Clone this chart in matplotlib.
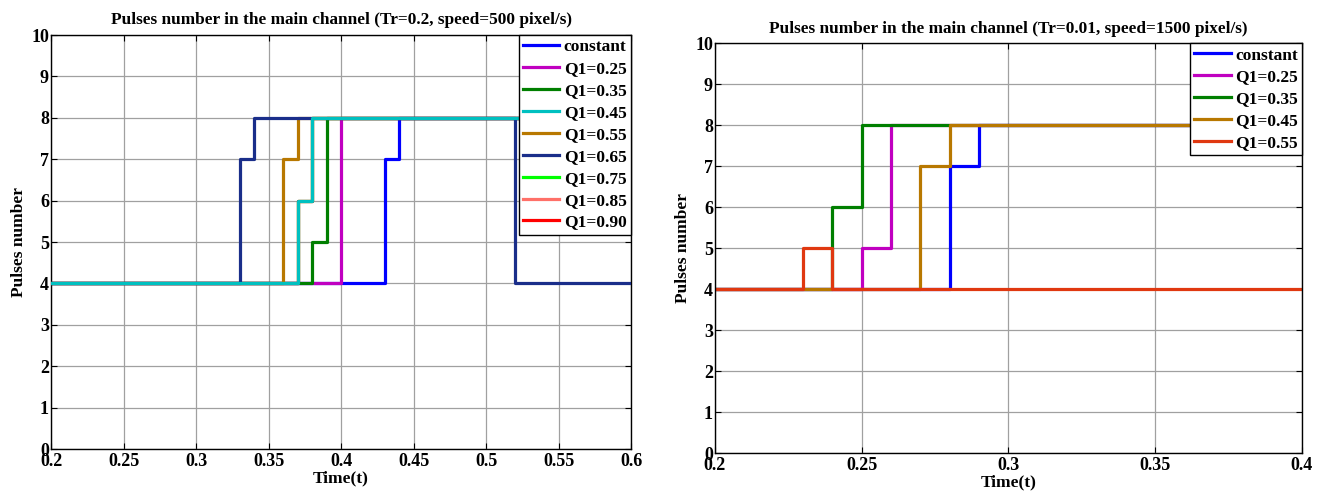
import matplotlib
matplotlib.use("Agg")
import matplotlib.pyplot as plt

plt.rcParams["font.family"] = ["Liberation Serif", "DejaVu Serif"]
plt.rcParams["font.weight"] = "bold"

# ---- left panel data (Tr=0.2, speed=500 pixel/s) ----
left_labels = ["constant", "Q1=0.25", "Q1=0.35", "Q1=0.45", "Q1=0.55",
               "Q1=0.65", "Q1=0.75", "Q1=0.85", "Q1=0.90"]
left_t = [
    [0.2, 0.43, 0.44, 0.6],
    [0.2, 0.40, 0.6],
    [0.2, 0.38, 0.39, 0.6],
    [0.2, 0.37, 0.38, 0.6],
    [0.2, 0.36, 0.37, 0.6],
    [0.2, 0.33, 0.34, 0.52, 0.6],
    [0.2, 0.37, 0.38, 0.6],
    [0.2, 0.37, 0.38, 0.6],
    [0.2, 0.37, 0.38, 0.6],
]
left_n = [
    [4, 7, 8, 8],
    [4, 8, 8],
    [4, 5, 8, 8],
    [4, 6, 8, 8],
    [4, 7, 8, 8],
    [4, 7, 8, 4, 4],
    [4, 6, 8, 8],
    [4, 6, 8, 8],
    [4, 6, 8, 8],
]
left_colors = ["#0000ff", "#c000c0", "#007f00", "#00c0c0", "#b87800",
               "#1a2e8a", "#00ff00", "#ff7068", "#ff0000"]
left_z = [2, 3, 4, 9, 5, 6, 1, 1, 1]

# ---- right panel data (Tr=0.01, speed=1500 pixel/s) ----
right_labels = ["constant", "Q1=0.25", "Q1=0.35", "Q1=0.45", "Q1=0.55"]
right_t = [
    [0.2, 0.28, 0.29, 0.4],
    [0.2, 0.25, 0.26, 0.4],
    [0.2, 0.24, 0.25, 0.4],
    [0.2, 0.27, 0.28, 0.4],
    [0.2, 0.23, 0.24, 0.4],
]
right_n = [
    [4, 7, 8, 8],
    [4, 5, 8, 8],
    [4, 6, 8, 8],
    [4, 7, 8, 8],
    [4, 5, 4, 4],
]
right_colors = ["#0000ff", "#c000c0", "#007f00", "#b87800", "#e03810"]


def style_axes(ax, xlim, xticks, title, title_pad):
    ax.set_xlim(*xlim)
    ax.set_ylim(0, 10)
    ax.set_xticks(xticks)
    ax.set_xticklabels([("%g" % v) for v in xticks])
    ax.set_yticks(range(0, 11))
    ax.grid(True, color="#a0a0a0", linewidth=0.9)
    ax.set_axisbelow(True)
    ax.tick_params(direction="in", top=True, right=True, length=4,
                   width=0.8, labelsize=13, pad=1.5)
    ax.tick_params(axis="x", pad=3)
    for lab in ax.get_xticklabels() + ax.get_yticklabels():
        lab.set_fontweight("bold")
    for sp in ax.spines.values():
        sp.set_linewidth(1.0)
    ax.set_title(title, fontsize=12.4, fontweight="bold", pad=title_pad)
    ax.set_xlabel("Time(t)", fontsize=12.5, fontweight="bold", labelpad=0)
    ax.set_ylabel("Pulses number", fontsize=12.5, fontweight="bold", labelpad=3)
    leg = ax.legend(loc="upper right", borderaxespad=0, fancybox=False,
                    framealpha=1, edgecolor="black", fontsize=12.5,
                    handlelength=2.1, handletextpad=0.25, labelspacing=0.33,
                    borderpad=0.25)
    leg.get_frame().set_linewidth(1.0)
    leg.set_zorder(20)
    for txt in leg.get_texts():
        txt.set_fontweight("bold")


fig = plt.figure(figsize=(13.26, 4.93), dpi=100)
ax1 = fig.add_axes([0.0385, 0.0892, 0.4374, 0.8398])
ax2 = fig.add_axes([0.5392, 0.0811, 0.4427, 0.8316])

for t, n, c, z, lab in zip(left_t, left_n, left_colors, left_z, left_labels):
    ax1.step(t, n, where="post", color=c, linewidth=2.3, zorder=z, label=lab)
style_axes(ax1, (0.2, 0.6), [0.2, 0.25, 0.3, 0.35, 0.4, 0.45, 0.5, 0.55, 0.6],
           "Pulses number in the main channel (Tr=0.2, speed=500 pixel/s)", 8)

for t, n, c, lab in zip(right_t, right_n, right_colors, right_labels):
    ax2.step(t, n, where="post", color=c, linewidth=2.3, label=lab)
style_axes(ax2, (0.2, 0.4), [0.2, 0.25, 0.3, 0.35, 0.4],
           "Pulses number in the main channel (Tr=0.01, speed=1500 pixel/s)", 7)

fig.savefig("out.png", dpi=100)
